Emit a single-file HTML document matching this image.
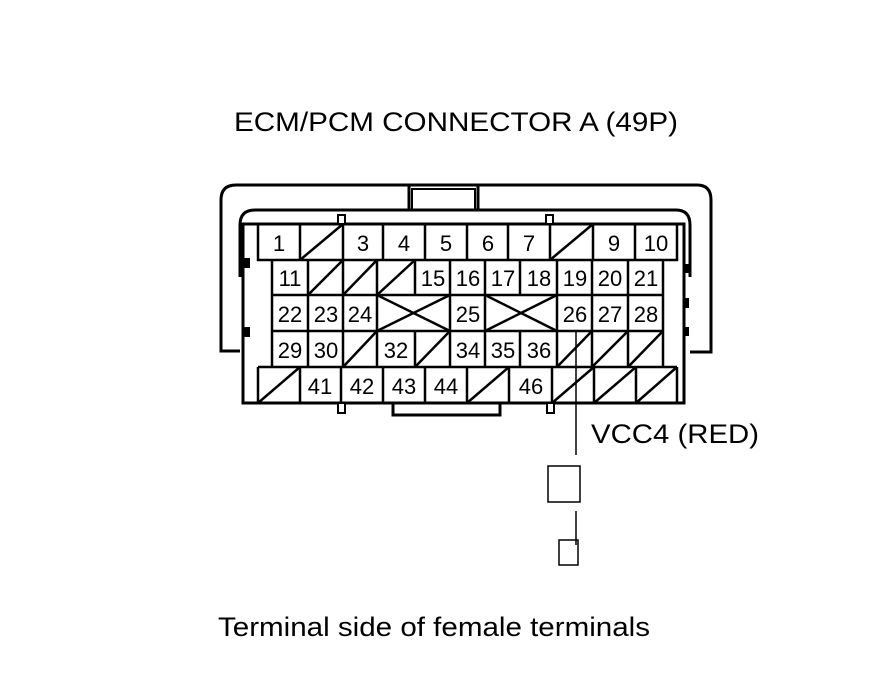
<!DOCTYPE html>
<html><head><meta charset="utf-8"><style>html,body{margin:0;padding:0;background:#fff}svg{display:block}</style></head><body>
<svg width="880" height="684" viewBox="0 0 880 684" xmlns="http://www.w3.org/2000/svg" font-family="Liberation Sans, Arial, sans-serif">
<rect width="880" height="684" fill="#fff"/>
<text x="234" y="131" font-size="27" textLength="444" lengthAdjust="spacingAndGlyphs">ECM/PCM CONNECTOR A (49P)</text>
<g fill="none" stroke="#000" stroke-width="3">
<path d="M240,351 H221 V200 Q221,185 236,185 H697 Q711,185 711,200 V352 H690"/>
<path d="M240,277 V225 Q240,210 255,210 H676 Q690,210 690,225 V277"/>
<rect x="243" y="224" width="441" height="179"/>
<path d="M409,185 V210 M478,185 V210" />
<rect x="412" y="189" width="63" height="21" stroke-width="2"/>
<path d="M393,403 V415 H500 V403"/>
</g>
<g fill="#fff" stroke="#000" stroke-width="2">
<rect x="338" y="215" width="7" height="9"/><rect x="546" y="215" width="7" height="9"/>
<rect x="338" y="403" width="7" height="10"/><rect x="547" y="403" width="7" height="10"/>
</g>
<g fill="#000">
<rect x="244" y="258" width="6" height="10"/><rect x="244" y="327" width="6" height="10"/>
<rect x="683" y="264" width="6" height="9"/><rect x="683" y="298" width="6" height="10"/><rect x="683" y="327" width="6" height="9"/>
</g>
<g fill="none" stroke="#000" stroke-width="2.5">
<path d="M258,224 V260 H677 V224 M300,224 V260 M343,224 V260 M383,224 V260 M425,224 V260 M467,224 V260 M508,224 V260 M550,224 V260 M593,224 V260 M635,224 V260"/>
<path d="M300,260 L343,224 M550,260 L593,224"/>
<path d="M272,260 V367 M663,260 V367 M272,295 H663 M272,331 H663 M258,367 H677"/>
<path d="M308,260 V367 M343,260 V367 M377,260 V367 M415,260 V295 M415,331 V367 M450,260 V367 M485,260 V367 M520,260 V295 M520,331 V367 M557,260 V367 M592,260 V367 M628,260 V367"/>
<path d="M308,295 L343,260 M343,295 L377,260 M377,295 L415,260"/>
<path d="M377,295 L450,331 M377,331 L450,295 M485,295 L557,331 M485,331 L557,295"/>
<path d="M343,367 L377,331 M415,367 L450,331 M557,367 L592,331 M592,367 L628,331 M628,367 L663,331"/>
<path d="M258,367 V403 M300,367 V403 M341,367 V403 M383,367 V403 M425,367 V403 M467,367 V403 M509,367 V403 M552,367 V403 M594,367 V403 M636,367 V403 M677,367 V403"/>
<path d="M258,403 L300,367 M467,403 L509,367 M552,403 L594,367 M594,403 L636,367 M636,403 L677,367"/>
</g>
<g font-size="22" text-anchor="middle">
<text x="279" y="251">1</text><text x="363" y="251">3</text><text x="404" y="251">4</text><text x="446" y="251">5</text><text x="488" y="251">6</text><text x="529" y="251">7</text><text x="614" y="251">9</text><text x="656" y="251">10</text>
<text x="290" y="286">11</text><text x="433" y="286">15</text><text x="468" y="286">16</text><text x="503" y="286">17</text><text x="539" y="286">18</text><text x="575" y="286">19</text><text x="610" y="286">20</text><text x="646" y="286">21</text>
<text x="290" y="322">22</text><text x="326" y="322">23</text><text x="360" y="322">24</text><text x="468" y="322">25</text><text x="575" y="322">26</text><text x="610" y="322">27</text><text x="646" y="322">28</text>
<text x="290" y="358">29</text><text x="326" y="358">30</text><text x="396" y="358">32</text><text x="468" y="358">34</text><text x="503" y="358">35</text><text x="539" y="358">36</text>
<text x="320" y="394">41</text><text x="362" y="394">42</text><text x="404" y="394">43</text><text x="446" y="394">44</text><text x="531" y="394">46</text>
</g>
<g fill="none" stroke="#000" stroke-width="1.5">
<path d="M576,331 V455 M576,511 V545"/>
<rect x="548" y="466" width="32" height="36"/>
<rect x="559" y="540" width="19" height="25"/>
</g>
<text x="591" y="443" font-size="27" textLength="168" lengthAdjust="spacingAndGlyphs">VCC4 (RED)</text>
<text x="218" y="636" font-size="27" textLength="432" lengthAdjust="spacingAndGlyphs">Terminal side of female terminals</text>
</svg>
</body></html>
